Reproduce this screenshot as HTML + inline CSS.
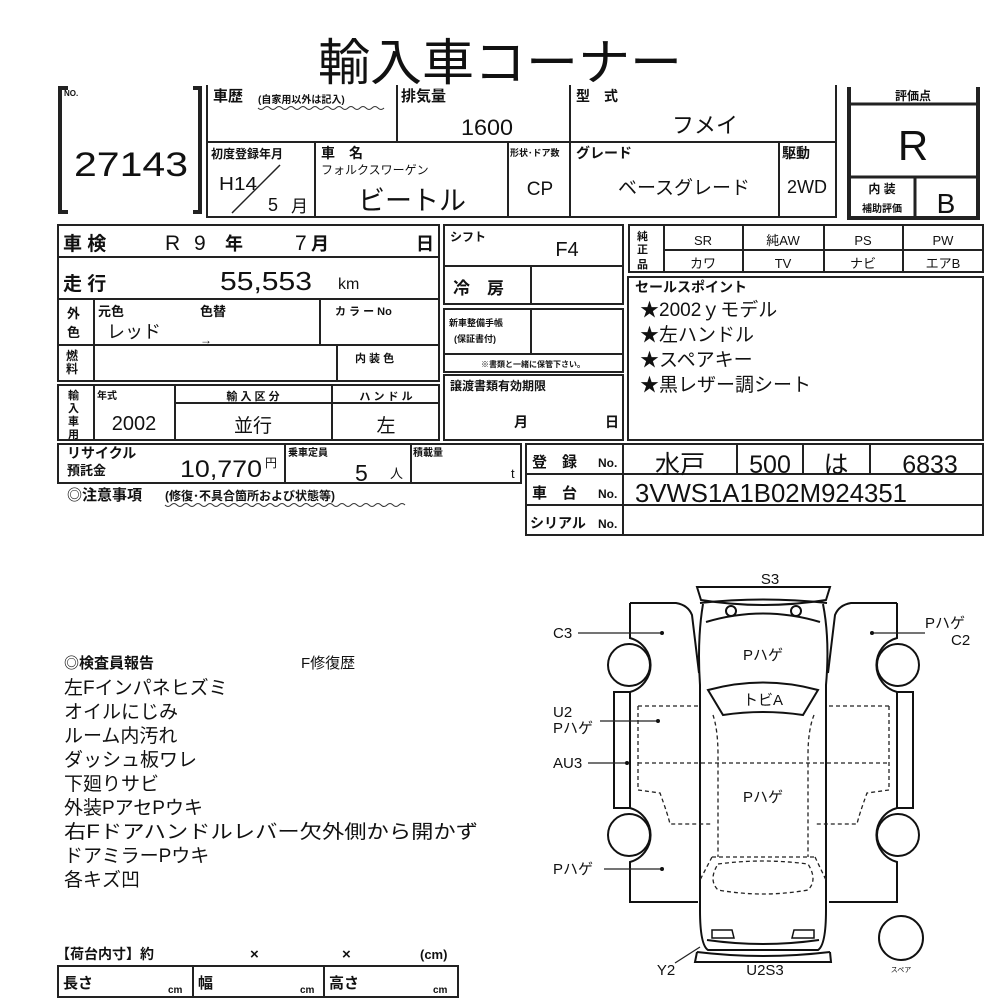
<!DOCTYPE html>
<html><head><meta charset="utf-8"><style>
html,body{margin:0;padding:0;background:#fff;}
svg{display:block;}
text{font-family:"Liberation Sans","Noto Sans CJK JP",sans-serif;fill:#111;}
.b{font-weight:bold;}
</style></head><body>
<svg width="1000" height="1000" viewBox="0 0 1000 1000" xmlns="http://www.w3.org/2000/svg">
<g stroke="#222" fill="none" stroke-width="2">
<path d="M68 88 H60 V212 H68" stroke-width="4"/>
<path d="M193 88 H200 V212 H193" stroke-width="4"/>
<path d="M207 85 V217 H836 V85"/>
<path d="M207 142 H836"/>
<path d="M397 85 V142"/><path d="M570 85 V217"/>
<path d="M315 142 V217"/><path d="M508 142 V217"/><path d="M779 142 V217"/>
<path d="M849 87 V218 H978 V87" stroke-width="4"/>
<path d="M849 104 H978" stroke-width="3"/>
<path d="M849 177 H978" stroke-width="3"/>
<path d="M915 177 V218" stroke-width="3"/>
<rect x="58" y="225" width="381" height="156"/>
<path d="M58 257 H439 M58 299 H439 M58 345 H439"/>
<path d="M94 299 V381 M320 299 V345 M337 345 V381"/>
<rect x="58" y="385" width="381" height="55"/>
<path d="M94 385 V440 M175 385 V440 M332 385 V440 M175 403 H439"/>
<rect x="58" y="444" width="463" height="39"/>
<path d="M285 444 V483 M411 444 V483"/>
<rect x="444" y="225" width="179" height="79"/>
<path d="M444 266 H623 M531 266 V304"/>
<rect x="444" y="309" width="179" height="63"/>
<path d="M444 354 H623 M531 309 V354"/>
<rect x="444" y="375" width="179" height="65"/>
<rect x="629" y="225" width="354" height="47"/>
<path d="M664 250 H983 M664 225 V272 M743 225 V272 M824 225 V272 M903 225 V272"/>
<rect x="628" y="277" width="355" height="163"/>
<rect x="526" y="444" width="457" height="91"/>
<path d="M526 474 H983 M526 505 H983 M623 444 V535 M737 444 V474 M803 444 V474 M870 444 V474"/>
<rect x="58" y="966" width="400" height="31"/>
<path d="M193 966 V997 M324 966 V997"/>
</g>
<path d="M258 108 q3 3 6 0 t6 0 t6 0 t6 0 t6 0 t6 0 t6 0 t6 0 t6 0 t6 0 t6 0 t6 0 t6 0 t6 0 t6 0 t6 0 t6 0 t6 0 t6 0 t6 0 t6 0" stroke="#333" fill="none" stroke-width="1"/>
<path d="M165 505 q3 3 6 0 t6 0 t6 0 t6 0 t6 0 t6 0 t6 0 t6 0 t6 0 t6 0 t6 0 t6 0 t6 0 t6 0 t6 0 t6 0 t6 0 t6 0 t6 0 t6 0 t6 0 t6 0 t6 0 t6 0 t6 0 t6 0 t6 0 t6 0 t6 0 t6 0 t6 0 t6 0 t6 0 t6 0 t6 0 t6 0 t6 0 t6 0 t6 0 t6 0" stroke="#333" fill="none" stroke-width="1"/>

<text x="500" y="80" font-size="50" text-anchor="middle" textLength="364" lengthAdjust="spacingAndGlyphs">輸入車コーナー</text>
<text x="64" y="96" font-size="8" class="b">NO.</text>
<text x="74" y="176" font-size="34" textLength="114" lengthAdjust="spacingAndGlyphs" style="font-weight:300">27143</text>

<text x="213" y="101" font-size="15" class="b">車歴</text>
<text x="258" y="103" font-size="10" class="b">(自家用以外は記入)</text>
<text x="401" y="101" font-size="15" class="b">排気量</text>
<text x="513" y="135" font-size="22" text-anchor="end" textLength="52" lengthAdjust="spacingAndGlyphs">1600</text>
<text x="576" y="101" font-size="14" class="b">型　式</text>
<text x="705" y="133" font-size="22" text-anchor="middle">フメイ</text>
<text x="211" y="158" font-size="12" class="b">初度登録年月</text>
<text x="219" y="190" font-size="18" textLength="38" lengthAdjust="spacingAndGlyphs">H14</text>
<line x1="232" y1="213" x2="280" y2="165" stroke="#222" stroke-width="1.5"/>
<text x="268" y="211" font-size="18">5</text>
<text x="291" y="212" font-size="17">月</text>
<text x="321" y="158" font-size="14" class="b">車　名</text>
<text x="321" y="174" font-size="12">フォルクスワーゲン</text>
<text x="412" y="210" font-size="27" text-anchor="middle">ビートル</text>
<text x="510" y="156" font-size="9" class="b">形状･ドア数</text>
<text x="540" y="195" font-size="19" text-anchor="middle">CP</text>
<text x="576" y="158" font-size="14" class="b">グレード</text>
<text x="684" y="194" font-size="19" text-anchor="middle">ベースグレード</text>
<text x="782" y="158" font-size="14" class="b">駆動</text>
<text x="807" y="193" font-size="18" text-anchor="middle">2WD</text>
<text x="913" y="100" font-size="12" class="b" text-anchor="middle">評価点</text>
<text x="913" y="160" font-size="42" text-anchor="middle">R</text>
<text x="882" y="193" font-size="12" class="b" text-anchor="middle">内 装</text>
<text x="882" y="212" font-size="10" class="b" text-anchor="middle">補助評価</text>
<text x="946" y="213" font-size="28" text-anchor="middle">B</text>

<text x="63" y="250" font-size="19" class="b">車 検</text>
<text x="165" y="250" font-size="21">R</text>
<text x="194" y="250" font-size="21">9</text>
<text x="225" y="250" font-size="18" class="b">年</text>
<text x="295" y="250" font-size="21">7</text>
<text x="311" y="250" font-size="18" class="b">月</text>
<text x="416" y="250" font-size="18" class="b">日</text>
<text x="63" y="290" font-size="19" class="b">走 行</text>
<text x="220" y="290" font-size="26" textLength="92" lengthAdjust="spacingAndGlyphs">55,553</text>
<text x="338" y="289" font-size="16">km</text>
<text x="67" y="318" font-size="13" class="b">外</text>
<text x="67" y="337" font-size="13" class="b">色</text>
<text x="98" y="316" font-size="13" class="b">元色</text>
<text x="200" y="316" font-size="13" class="b">色替</text>
<text x="107" y="338" font-size="18">レッド</text>
<text x="200" y="344" font-size="12">→</text>
<text x="335" y="315" font-size="11" class="b">カ ラ ー No</text>
<text x="66" y="360" font-size="12" class="b">燃</text>
<text x="66" y="373" font-size="12" class="b">料</text>
<text x="355" y="362" font-size="11" class="b">内 装 色</text>
<text x="68" y="399" font-size="11" class="b">輸</text>
<text x="68" y="412" font-size="11" class="b">入</text>
<text x="68" y="425" font-size="11" class="b">車</text>
<text x="68" y="438" font-size="11" class="b">用</text>
<text x="97" y="399" font-size="10" class="b">年式</text>
<text x="134" y="430" font-size="20" text-anchor="middle">2002</text>
<text x="253" y="400" font-size="11" class="b" text-anchor="middle">輸 入 区 分</text>
<text x="253" y="432" font-size="19" text-anchor="middle">並行</text>
<text x="386" y="400" font-size="11" class="b" text-anchor="middle">ハ ン ド ル</text>
<text x="386" y="432" font-size="19" text-anchor="middle">左</text>
<text x="67" y="458" font-size="14" class="b">リサイクル</text>
<text x="67" y="475" font-size="13" class="b">預託金</text>
<text x="180" y="477" font-size="24" textLength="82" lengthAdjust="spacingAndGlyphs">10,770</text>
<text x="265" y="467" font-size="12">円</text>
<text x="288" y="456" font-size="10" class="b">乗車定員</text>
<text x="355" y="481" font-size="23">5</text>
<text x="390" y="478" font-size="13">人</text>
<text x="413" y="456" font-size="10" class="b">積載量</text>
<text x="511" y="478" font-size="13">t</text>
<text x="67" y="500" font-size="15" class="b">◎注意事項</text>
<text x="165" y="500" font-size="12" class="b">(修復･不具合箇所および状態等)</text>

<text x="450" y="241" font-size="12" class="b">シフト</text>
<text x="567" y="256" font-size="20" text-anchor="middle">F4</text>
<text x="453" y="294" font-size="17" class="b">冷　房</text>
<text x="449" y="326" font-size="9" class="b">新車整備手帳</text>
<text x="454" y="342" font-size="9" class="b">(保証書付)</text>
<text x="533" y="367" font-size="8" class="b" text-anchor="middle">※書類と一緒に保管下さい。</text>
<text x="450" y="390" font-size="12" class="b">譲渡書類有効期限</text>
<text x="514" y="427" font-size="14" class="b">月</text>
<text x="605" y="427" font-size="14" class="b">日</text>

<text x="637" y="240" font-size="11" class="b">純</text>
<text x="637" y="253" font-size="11" class="b">正</text>
<text x="637" y="268" font-size="11" class="b">品</text>
<text x="703" y="245" font-size="13" text-anchor="middle">SR</text>
<text x="783" y="245" font-size="13" text-anchor="middle">純AW</text>
<text x="863" y="245" font-size="13" text-anchor="middle">PS</text>
<text x="943" y="245" font-size="13" text-anchor="middle">PW</text>
<text x="703" y="268" font-size="13" text-anchor="middle">カワ</text>
<text x="783" y="268" font-size="13" text-anchor="middle">TV</text>
<text x="863" y="268" font-size="13" text-anchor="middle">ナビ</text>
<text x="943" y="268" font-size="13" text-anchor="middle">エアB</text>
<text x="635" y="292" font-size="14" class="b">セールスポイント</text>
<text x="640" y="316" font-size="19">★2002ｙモデル</text>
<text x="640" y="341" font-size="19">★左ハンドル</text>
<text x="640" y="366" font-size="19">★スペアキー</text>
<text x="640" y="391" font-size="19">★黒レザー調シート</text>

<text x="532" y="467" font-size="15" class="b">登　録</text>
<text x="598" y="467" font-size="12" class="b">No.</text>
<text x="532" y="498" font-size="15" class="b">車　台</text>
<text x="598" y="498" font-size="12" class="b">No.</text>
<text x="530" y="528" font-size="14" class="b">シリアル</text>
<text x="598" y="528" font-size="12" class="b">No.</text>
<text x="680" y="473" font-size="25" text-anchor="middle">水戸</text>
<text x="770" y="473" font-size="25" text-anchor="middle">500</text>
<text x="836" y="473" font-size="25" text-anchor="middle">は</text>
<text x="930" y="473" font-size="25" text-anchor="middle">6833</text>
<text x="635" y="502" font-size="26" textLength="272" lengthAdjust="spacingAndGlyphs">3VWS1A1B02M924351</text>

<text x="64" y="668" font-size="15" class="b">◎検査員報告</text>
<text x="301" y="668" font-size="15">F修復歴</text>
<g font-size="19">
<text x="64" y="694">左Fインパネヒズミ</text>
<text x="64" y="718">オイルにじみ</text>
<text x="64" y="742">ルーム内汚れ</text>
<text x="64" y="766">ダッシュ板ワレ</text>
<text x="64" y="790">下廻りサビ</text>
<text x="64" y="814">外装PアセPウキ</text>
<text x="64" y="838" textLength="414" lengthAdjust="spacingAndGlyphs">右Fドアハンドルレバー欠外側から開かず</text>
<text x="64" y="862">ドアミラーPウキ</text>
<text x="64" y="886">各キズ凹</text>
</g>
<text x="56" y="959" font-size="14" class="b">【荷台内寸】約</text>
<text x="250" y="959" font-size="15" class="b">×</text>
<text x="342" y="959" font-size="15" class="b">×</text>
<text x="420" y="959" font-size="13" class="b">(cm)</text>
<text x="63" y="988" font-size="15" class="b">長さ</text>
<text x="168" y="993" font-size="10" class="b">cm</text>
<text x="198" y="988" font-size="15" class="b">幅</text>
<text x="300" y="993" font-size="10" class="b">cm</text>
<text x="329" y="988" font-size="15" class="b">高さ</text>
<text x="433" y="993" font-size="10" class="b">cm</text>

<g stroke="#111" fill="none" stroke-width="2">
 <path d="M697 587 H830 L826 600 Q763 610 701 600 Z"/>
 <path d="M700 603 Q763 596 827 603"/>
 <circle cx="731" cy="611" r="5"/><circle cx="796" cy="611" r="5"/>
 <path d="M703 604 Q697 640 700 685 L700 910 Q700 945 708 950 L818 950 Q826 945 826 910 L826 685 Q830 640 823 604"/>
 <path d="M706 622 Q763 605 820 622"/>
 <path d="M707 940 Q763 948 819 940"/>
 <path d="M697 952 Q763 960 830 952 M697 952 L695 962 H831 L830 952"/>
 <path d="M712 930 h20 l2 8 h-22 z M794 930 h20 v8 h-22 z" stroke-width="1.5"/>
 <path d="M708 690 Q763 675 818 690 L803 715 Q763 709 723 715 Z"/>
 <path d="M630 603 H676 Q688 605 692 615 L699 673"/>
 <path d="M630 603 V638 A28 28 0 0 1 630 692 V808 A28 28 0 0 1 630 862 V902 H698"/>
 <path d="M630 692 H614 V808 H630"/>
 <circle cx="629" cy="665" r="21"/><circle cx="629" cy="835" r="21"/>
 <path d="M897 603 H851 Q839 605 835 615 L828 673"/>
 <path d="M897 603 V638 A28 28 0 0 0 897 692 V808 A28 28 0 0 0 897 862 V902 H829"/>
 <path d="M897 692 H913 V808 H897"/>
 <circle cx="898" cy="665" r="21"/><circle cx="898" cy="835" r="21"/>
 <circle cx="901" cy="938" r="22"/>
</g>
<g stroke="#222" fill="none" stroke-width="1.3" stroke-dasharray="4 3">
 <path d="M638 706 H700 M638 706 V790 L660 793 Q668 815 670 824 H712"/>
 <path d="M638 763 H889"/>
 <path d="M889 706 H827 M889 706 V790 L867 793 Q859 815 857 824 H815"/>
 <path d="M713 715 Q718 730 718 755 V857 M814 715 Q808 730 808 755 V857"/>
 <path d="M712 857 H815 M712 857 L700 880 M815 857 L826 880"/>
 <path d="M718 864 Q763 858 808 864 Q818 880 808 890 Q763 898 718 890 Q708 880 718 864 Z"/>
</g>
<g stroke="#222" stroke-width="1.3">
 <path d="M578 633 H662"/><path d="M870 633 H925"/>
 <path d="M600 721 H658"/><path d="M588 763 H627"/><path d="M604 869 H662"/>
 <path d="M675 963 L700 947"/>
</g>
<g fill="#111"><circle cx="662" cy="633" r="2"/><circle cx="872" cy="633" r="2"/><circle cx="658" cy="721" r="2"/><circle cx="627" cy="763" r="2"/><circle cx="662" cy="869" r="2"/></g>
<g font-size="15">
<text x="770" y="584" text-anchor="middle">S3</text>
<text x="553" y="638">C3</text>
<text x="925" y="628">Pハゲ</text>
<text x="951" y="645">C2</text>
<text x="553" y="717">U2</text>
<text x="553" y="733">Pハゲ</text>
<text x="553" y="768">AU3</text>
<text x="553" y="874">Pハゲ</text>
<text x="763" y="660" text-anchor="middle">Pハゲ</text>
<text x="763" y="705" text-anchor="middle">トビA</text>
<text x="763" y="802" text-anchor="middle">Pハゲ</text>
<text x="666" y="975" text-anchor="middle">Y2</text>
<text x="765" y="975" text-anchor="middle">U2S3</text>
</g>
<text x="901" y="972" font-size="7" text-anchor="middle">スペア</text>
</svg>
</body></html>
